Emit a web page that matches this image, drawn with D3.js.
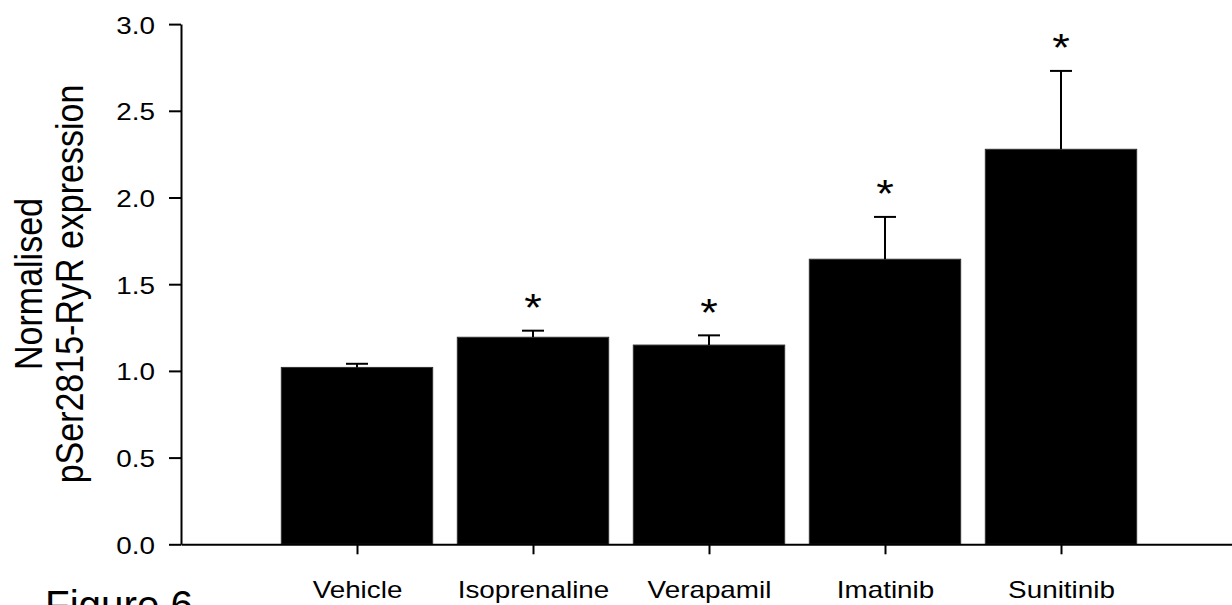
<!DOCTYPE html>
<html>
<head>
<meta charset="utf-8">
<script src="https://cdn.jsdelivr.net/npm/d3@7"></script>
<style>
  html, body { margin: 0; padding: 0; background: #fff; }
  svg { display: block; }
  text { font-family: "Liberation Sans", Arial, sans-serif; fill: #000; }
</style>
</head>
<body>
<svg id="chart" width="1232" height="605"></svg>
<script>
// Treatment groups
const categories = ["Vehicle", "Isoprenaline", "Verapamil", "Imatinib", "Sunitinib"];
// Mean normalised pSer2815-RyR expression
const means = [1.02, 1.194, 1.149, 1.644, 2.278];
// Upper error (SEM)
const errors = [0.021, 0.038, 0.056, 0.244, 0.452];
// Significance vs vehicle
const significant = [false, true, true, true, true];
// Y axis ticks
const yTicks = [0, 0.5, 1.0, 1.5, 2.0, 2.5, 3.0];

const svg = d3.select("#chart");
const stretch = 1.16;          // text is drawn slightly wide
const barHalf = 0.43;          // half bar width in category units

const x = d3.scaleLinear().domain([0, 6]).range([181, 1237]);
const y = d3.scaleLinear().domain([0, 3]).range([544.3, 24.1]);

// Bars
svg.append("g").selectAll("rect")
  .data(means)
  .join("rect")
  .attr("x", (d, i) => x(i + 1 - barHalf))
  .attr("width", (d, i) => x(i + 1 + barHalf) - x(i + 1 - barHalf))
  .attr("y", d => y(d))
  .attr("height", d => y(0) - y(d))
  .attr("fill", "#000")
  .attr("stroke", "#333")
  .attr("stroke-width", 1);

// Upper error bars
const eb = svg.append("g").attr("stroke", "#000").attr("stroke-width", 2);
means.forEach((m, i) => {
  const cx = x(i + 1);
  eb.append("line").attr("x1", cx).attr("x2", cx).attr("y1", y(m)).attr("y2", y(m + errors[i]));
  eb.append("line").attr("x1", cx - 11).attr("x2", cx + 11).attr("y1", y(m + errors[i])).attr("y2", y(m + errors[i]));
});

// Significance stars
svg.append("g").selectAll("text")
  .data(means.map((m, i) => ({ m, e: errors[i], s: significant[i], i })).filter(d => d.s))
  .join("text")
  .attr("transform", d => `translate(${x(d.i + 1)},${y(d.m + d.e) - 32 + 22.4}) scale(${stretch},1)`)
  .attr("text-anchor", "middle")
  .attr("font-size", 39)
  .text("*");

// Y axis
const yAxis = svg.append("g")
  .attr("transform", `translate(${x(0)},0)`)
  .call(d3.axisLeft(y).tickValues(yTicks).tickFormat(d3.format(".1f")).tickSize(12).tickPadding(14).tickSizeOuter(0));
yAxis.selectAll("path, line").attr("stroke", "#000").attr("stroke-width", 2);
yAxis.selectAll("text")
  .attr("font-size", 24)
  .attr("font-family", "Liberation Sans, Arial, sans-serif")
  .each(function () {
    const t = d3.select(this);
    const tx = +t.attr("x");
    t.attr("x", 0).attr("dy", null).attr("transform", `translate(${tx},9) scale(${stretch},1)`);
  });

// X axis
const xAxis = svg.append("g")
  .attr("transform", `translate(0,${y(0)})`)
  .call(d3.axisBottom(x).tickValues([1, 2, 3, 4, 5]).tickFormat(d => categories[d - 1]).tickSize(10).tickPadding(26).tickSizeOuter(0));
xAxis.selectAll("path, line").attr("stroke", "#000").attr("stroke-width", 2);
xAxis.selectAll("text")
  .attr("font-size", 24)
  .attr("font-family", "Liberation Sans, Arial, sans-serif")
  .each(function () {
    const t = d3.select(this);
    const ty = +t.attr("y");
    t.attr("y", 0).attr("dy", null).attr("transform", `translate(0,${ty + 17.3}) scale(${stretch},1)`);
  });

// Y axis title (two lines, rotated)
const title = svg.append("text")
  .attr("transform", `translate(0,284) scale(${stretch},1) rotate(-90)`)
  .attr("text-anchor", "middle")
  .attr("font-size", 34);
title.append("tspan").attr("x", 0).attr("y", 35.9).text("Normalised");
title.append("tspan").attr("x", 0).attr("y", 71.8).text("pSer2815-RyR expression");

// Figure caption
svg.append("text")
  .attr("x", 45)
  .attr("y", 619)
  .attr("font-family", "Lato, 'Open Sans', sans-serif")
  .attr("font-size", 40)
  .attr("textLength", 148)
  .attr("lengthAdjust", "spacingAndGlyphs")
  .text("Figure 6");
</script>
</body>
</html>
